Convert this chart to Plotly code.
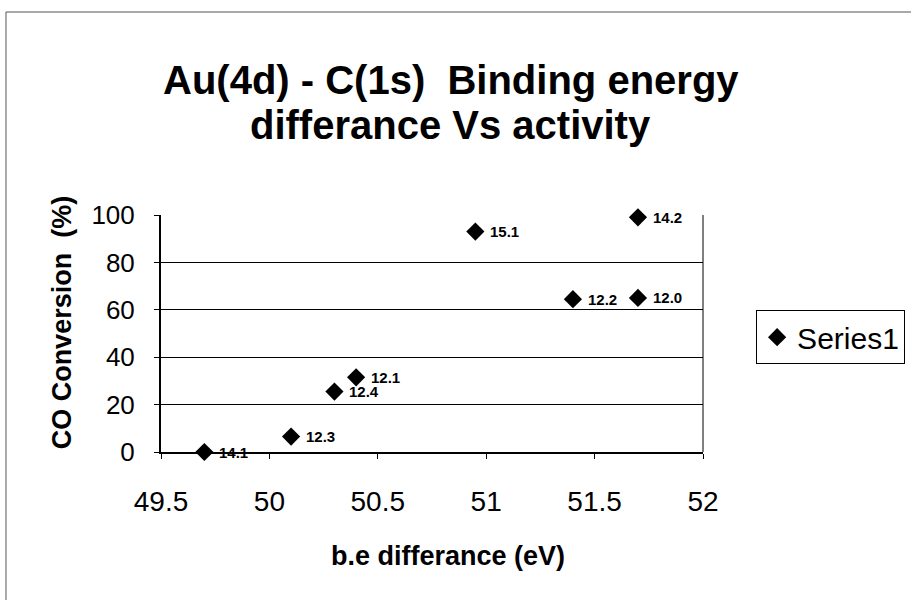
import plotly.graph_objects as go

# Data
be_diff = [49.7, 50.1, 50.3, 50.4, 50.95, 51.4, 51.7, 51.7]
co_conv = [0, 6.5, 25.5, 31.5, 93, 64.5, 65, 99]
point_labels = ["14.1", "12.3", "12.4", "12.1", "15.1", "12.2", "12.0", "14.2"]
x_ticks = [49.5, 50, 50.5, 51, 51.5, 52]
y_ticks = [0, 20, 40, 60, 80, 100]
series_name = "Series1"

FONT = "Arial, Liberation Sans, sans-serif"

fig = go.Figure()
fig.add_trace(go.Scatter(
    x=be_diff, y=co_conv, mode="markers", name=series_name,
    marker=dict(symbol="diamond", size=14, color="black"),
    cliponaxis=False,
))

# Data labels to the right of each point
for xv, yv, lab in zip(be_diff, co_conv, point_labels):
    fig.add_annotation(x=xv, y=yv, text=lab, showarrow=False,
                       xanchor="left", yanchor="middle", xshift=13,
                       font=dict(family=FONT, size=15, color="black", weight="bold"))

fig.update_layout(
    width=911, height=600,
    margin=dict(l=161, r=208, t=215, b=148, autoexpand=False),
    paper_bgcolor="white", plot_bgcolor="white",
    font=dict(family=FONT, color="black"),
    showlegend=True,
    legend=dict(x=1.098, y=0.5985, xanchor="left", yanchor="top",
                bordercolor="black", borderwidth=1,
                font=dict(family=FONT, size=30, color="black"),
                bgcolor="white"),
    xaxis=dict(range=[49.5, 52], tickvals=x_ticks, ticktext=[str(v) for v in x_ticks],
               ticks="outside", ticklen=5, tickcolor="black",
               showline=True, linecolor="black", linewidth=2,
               showgrid=False, zeroline=False,
               tickfont=dict(family=FONT, size=28, color="black"),
               ticklabelstandoff=18),
    yaxis=dict(range=[0, 100], tickvals=y_ticks,
               ticks="outside", ticklen=5, tickcolor="black",
               showline=True, linecolor="black", linewidth=2,
               showgrid=True, gridcolor="black", gridwidth=1, zeroline=False,
               tickfont=dict(family=FONT, size=26, color="black"),
               ticklabelstandoff=14),
)

# Titles as annotations
fig.add_annotation(text="Au(4d) - C(1s)\u00a0 Binding energy", xref="paper", yref="paper",
                   x=0.535, y=1.5696, xanchor="center", yanchor="middle", showarrow=False,
                   font=dict(family=FONT, size=40, color="black", weight="bold"))
fig.add_annotation(text="differance Vs activity", xref="paper", yref="paper",
                   x=0.535, y=1.3797, xanchor="center", yanchor="middle", showarrow=False,
                   font=dict(family=FONT, size=40, color="black", weight="bold"))
fig.add_annotation(text="b.e differance (eV)", xref="paper", yref="paper",
                   x=0.5295, y=-0.439, xanchor="center", yanchor="middle", showarrow=False,
                   font=dict(family=FONT, size=27, color="black", weight="bold"))
fig.add_annotation(text="CO Conversion\u00a0 (%)", xref="paper", yref="paper",
                   x=-0.182, y=0.5485, xanchor="center", yanchor="middle", showarrow=False,
                   textangle=-90,
                   font=dict(family=FONT, size=27, color="black", weight="bold"))

# Right plot border and outer chart border
fig.add_shape(type="line", xref="paper", yref="paper", x0=1, x1=1, y0=0, y1=1,
              line=dict(color="black", width=1))
fig.add_shape(type="rect", xref="paper", yref="paper",
              x0=-0.286, x1=1.40, y0=-0.66, y1=1.8565,
              line=dict(color="#555555", width=1))

fig.write_html("out.html")
